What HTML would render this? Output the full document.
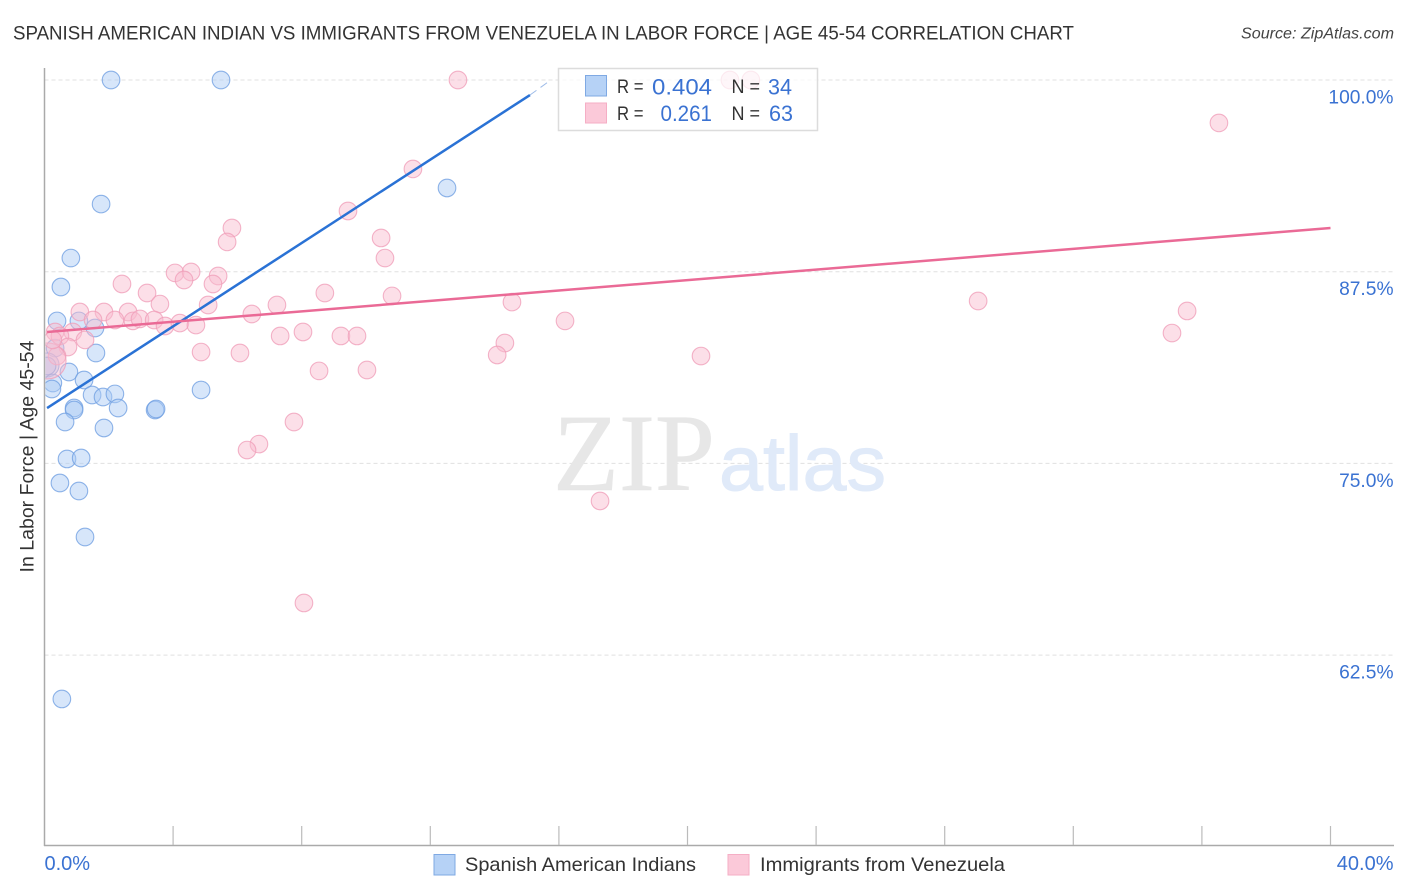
<!DOCTYPE html>
<html lang="en">
<head>
<meta charset="utf-8">
<title>Spanish American Indian vs Immigrants from Venezuela in Labor Force | Age 45-54 Correlation Chart</title>
<style>
html,body{margin:0;padding:0;background:#fff}
svg{display:block}
text{font-family:"Liberation Sans",sans-serif}
</style>
</head>
<body>
<svg id="chart" xmlns="http://www.w3.org/2000/svg" width="1406" height="892" viewBox="0 0 1406 892">
  <defs>
    <clipPath id="plot-clip"><rect x="45.5" y="60" width="1350" height="785"/></clipPath>
  </defs>
  <rect x="0" y="0" width="1406" height="892" fill="#fff"/>
  <text x="13" y="39.5" font-size="19.5" fill="#333" textLength="1061" lengthAdjust="spacingAndGlyphs">SPANISH AMERICAN INDIAN VS IMMIGRANTS FROM VENEZUELA IN LABOR FORCE | AGE 45-54 CORRELATION CHART</text>
  <text x="1394" y="38.5" font-size="15.5" font-style="italic" fill="#444" text-anchor="end" textLength="153" lengthAdjust="spacingAndGlyphs">Source: ZipAtlas.com</text>
  <g id="grid"></g>
  <text x="553" y="490" font-size="110" fill="#e7e7e7" stroke="#e7e7e7" stroke-width="0.6" textLength="162" lengthAdjust="spacingAndGlyphs" style="font-family:'Liberation Serif',serif">ZIP</text>
  <text x="719" y="490" font-size="78" fill="#e0eaf9" stroke="#e0eaf9" stroke-width="1" textLength="167" lengthAdjust="spacingAndGlyphs">atlas</text>
  <g id="points" clip-path="url(#plot-clip)"></g>
  <g id="trends"></g>
  <g id="axes"></g>
  <text transform="translate(33.5 456.5) rotate(-90)" font-size="19.5" fill="#333" text-anchor="middle" textLength="232" lengthAdjust="spacingAndGlyphs">In Labor Force | Age 45-54</text>
  <g>
    <rect x="558.5" y="68.5" width="259" height="62" fill="#fff" fill-opacity="0.72" stroke="#dcdcdc" stroke-width="1.5"/>
    <rect x="585.5" y="75.5" width="21" height="20.5" fill="#b6d2f6" stroke="#7fa9e3" stroke-width="1"/>
    <rect x="585.5" y="103" width="21" height="20" fill="#fbc9d9" stroke="#f5aec5" stroke-width="1"/>
    <text x="617" y="93" font-size="19.5" fill="#333" textLength="26.5" lengthAdjust="spacingAndGlyphs">R =</text>
    <text x="652" y="94.5" font-size="22" fill="#3a72d2" textLength="60" lengthAdjust="spacingAndGlyphs">0.404</text>
    <text x="731.5" y="93" font-size="19.5" fill="#333" textLength="28.5" lengthAdjust="spacingAndGlyphs">N =</text>
    <text x="768" y="94.5" font-size="22" fill="#3a72d2" textLength="24" lengthAdjust="spacingAndGlyphs">34</text>
    <text x="617" y="120" font-size="19.5" fill="#333" textLength="26.5" lengthAdjust="spacingAndGlyphs">R =</text>
    <text x="660.5" y="121" font-size="22" fill="#3a72d2" textLength="51.5" lengthAdjust="spacingAndGlyphs">0.261</text>
    <text x="731.5" y="120" font-size="19.5" fill="#333" textLength="28.5" lengthAdjust="spacingAndGlyphs">N =</text>
    <text x="769" y="121" font-size="22" fill="#3a72d2" textLength="24" lengthAdjust="spacingAndGlyphs">63</text>
  </g>
  <g>
    <rect x="434" y="854.5" width="21" height="20.5" fill="#b6d2f6" stroke="#7fa9e3" stroke-width="1"/>
    <text x="465" y="871" font-size="19.5" fill="#333" textLength="231" lengthAdjust="spacingAndGlyphs">Spanish American Indians</text>
    <rect x="728" y="854.5" width="21" height="20.5" fill="#fbc9d9" stroke="#f5aec5" stroke-width="1"/>
    <text x="760" y="871" font-size="19.5" fill="#333" textLength="245" lengthAdjust="spacingAndGlyphs">Immigrants from Venezuela</text>
  </g>
</svg>
<script>
const blueX = [2.07,5.49,12.52,1.76,0.82,0.51,0.39,1.07,1.57,1.60,0.33,0.08,0.08,0.26,0.23,0.76,1.23,1.48,1.82,2.19,2.29,0.92,0.92,0.64,1.85,3.44,3.47,4.87,0.70,1.14,0.48,1.07,1.26,0.54];
const blueY = [100,100,92.96,91.91,88.39,86.50,84.29,84.29,83.83,82.20,82.52,81.42,81.35,80.24,79.85,80.96,80.44,79.46,79.33,79.53,78.61,78.61,78.48,77.70,77.31,78.48,78.55,79.79,75.29,75.35,73.72,73.20,70.20,59.64];
const pinkX = [12.86,21.32,21.97,36.53,11.46,9.44,5.83,5.68,10.47,10.59,4.06,4.56,4.34,5.40,5.24,2.41,3.19,8.72,10.81,3.59,5.09,7.23,14.54,29.04,35.54,1.10,1.85,2.60,6.45,16.19,1.51,2.19,2.75,2.97,3.41,3.75,4.21,4.71,8.04,7.33,9.22,9.72,35.07,0.88,0.33,1.26,14.32,0.48,0.73,14.08,20.42,4.87,6.08,0.39,8.54,10.03,7.76,6.67,6.30,17.28,8.07,0.11,0.26];
const pinkY = [100,100,100,97.20,94.20,91.46,90.35,89.44,89.70,88.39,87.42,87.48,86.96,87.22,86.70,86.70,86.11,86.11,85.92,85.39,85.33,85.33,85.52,85.59,84.94,84.87,84.87,84.87,84.74,84.29,84.35,84.35,84.29,84.42,84.35,83.96,84.15,84.02,83.57,83.31,83.31,83.31,83.50,83.57,83.57,83.05,82.85,83.31,82.59,82.07,82.00,82.26,82.20,82.00,81.03,81.09,77.70,76.26,75.87,72.55,65.90,81.68,83.05];
const blueTrendX = [0.08,15.10];
const blueTrendY = [78.61,99.02];
const blueFadeX = [15.10,15.75];
const blueFadeY = [99.02,100];
const pinkTrendX = [0.08,40];
const pinkTrendY = [83.57,90.35];
const yTicks = [100,87.5,75,62.5];
const yTickLabels = ["100.0%","87.5%","75.0%","62.5%"];
const xTicks = [0,4,8,12,16,20,24,28,32,36,40];
const xEndLabels = ["0.0%","40.0%"];
const xEndValues = [0,40];

const NS = 'http://www.w3.org/2000/svg';
function xs(v){ return 44.5 + v * 32.15; }
function ys(v){ return 80 + (100 - v) * 15.336; }
function make(tag, parent, attrs, text){
  const el = document.createElementNS(NS, tag);
  for (const k in attrs) el.setAttribute(k, attrs[k]);
  if (text !== undefined) el.textContent = text;
  parent.appendChild(el);
  return el;
}
const grid = document.getElementById('grid');
const points = document.getElementById('points');
const trends = document.getElementById('trends');
const axes = document.getElementById('axes');

yTicks.forEach(function(t, i){
  const g = make('line', grid, {x1:44.5, x2:1394, y1:ys(t), y2:ys(t), stroke:'#e0e0e0', 'stroke-width':1, 'stroke-dasharray':'4 3'});
  
  
  const l = make('text', axes, {x:1393.5, y:ys(t)+23.5, 'font-size':19.2, fill:'#3a72d2', 'text-anchor':'end'}, yTickLabels[i]);
  
  
});

blueX.forEach(function(v, i){
  const c = make('circle', points, {cx:xs(v), cy:ys(blueY[i]), r:(i === 11 ? 12 : 8.8), fill:'#a9caf5', 'fill-opacity':0.47, stroke:'#6f9fe2', 'stroke-opacity':0.78, 'stroke-width':1.1});
  
  
});
pinkX.forEach(function(v, i){
  const c = make('circle', points, {cx:xs(v), cy:ys(pinkY[i]), r:(i === 61 ? 18 : 8.8), fill:'#f9bccf', 'fill-opacity':0.48, stroke:'#f09db9', 'stroke-opacity':0.78, 'stroke-width':1.1});
  
  
});

const blueTrend = make('line', trends, {x1:xs(blueTrendX[0]), y1:ys(blueTrendY[0]), x2:xs(blueTrendX[1]), y2:ys(blueTrendY[1]), stroke:'#2a72d5', 'stroke-width':2.5});


const blueFade = make('line', trends, {x1:xs(blueFadeX[0]), y1:ys(blueFadeY[0]), x2:xs(blueFadeX[1]), y2:ys(blueFadeY[1]), stroke:'#9dbbe8', 'stroke-width':1, 'stroke-dasharray':'8 5'});


const pinkTrend = make('line', trends, {x1:xs(pinkTrendX[0]), y1:ys(pinkTrendY[0]), x2:xs(pinkTrendX[1]), y2:ys(pinkTrendY[1]), stroke:'#ea6a96', 'stroke-width':2.5});



const yAxis = make('line', axes, {x1:44.5, x2:44.5, y1:68, y2:846, stroke:'#aaa', 'stroke-width':1.5});


const xAxis = make('line', axes, {x1:44, x2:1394, y1:845.5, y2:845.5, stroke:'#aaa', 'stroke-width':1.5});


xTicks.forEach(function(t){
  if (t === 0) return;
  const k = make('line', axes, {x1:xs(t), x2:xs(t), y1:826, y2:845, stroke:'#bbb', 'stroke-width':1.2});
  
  
});
const x0 = make('text', axes, {x:xs(xEndValues[0]), y:870, 'font-size':20, fill:'#3a72d2'}, xEndLabels[0]);


const x1 = make('text', axes, {x:1393.5, y:870, 'font-size':20, fill:'#3a72d2', 'text-anchor':'end'}, xEndLabels[1]);


</script>
</body>
</html>
